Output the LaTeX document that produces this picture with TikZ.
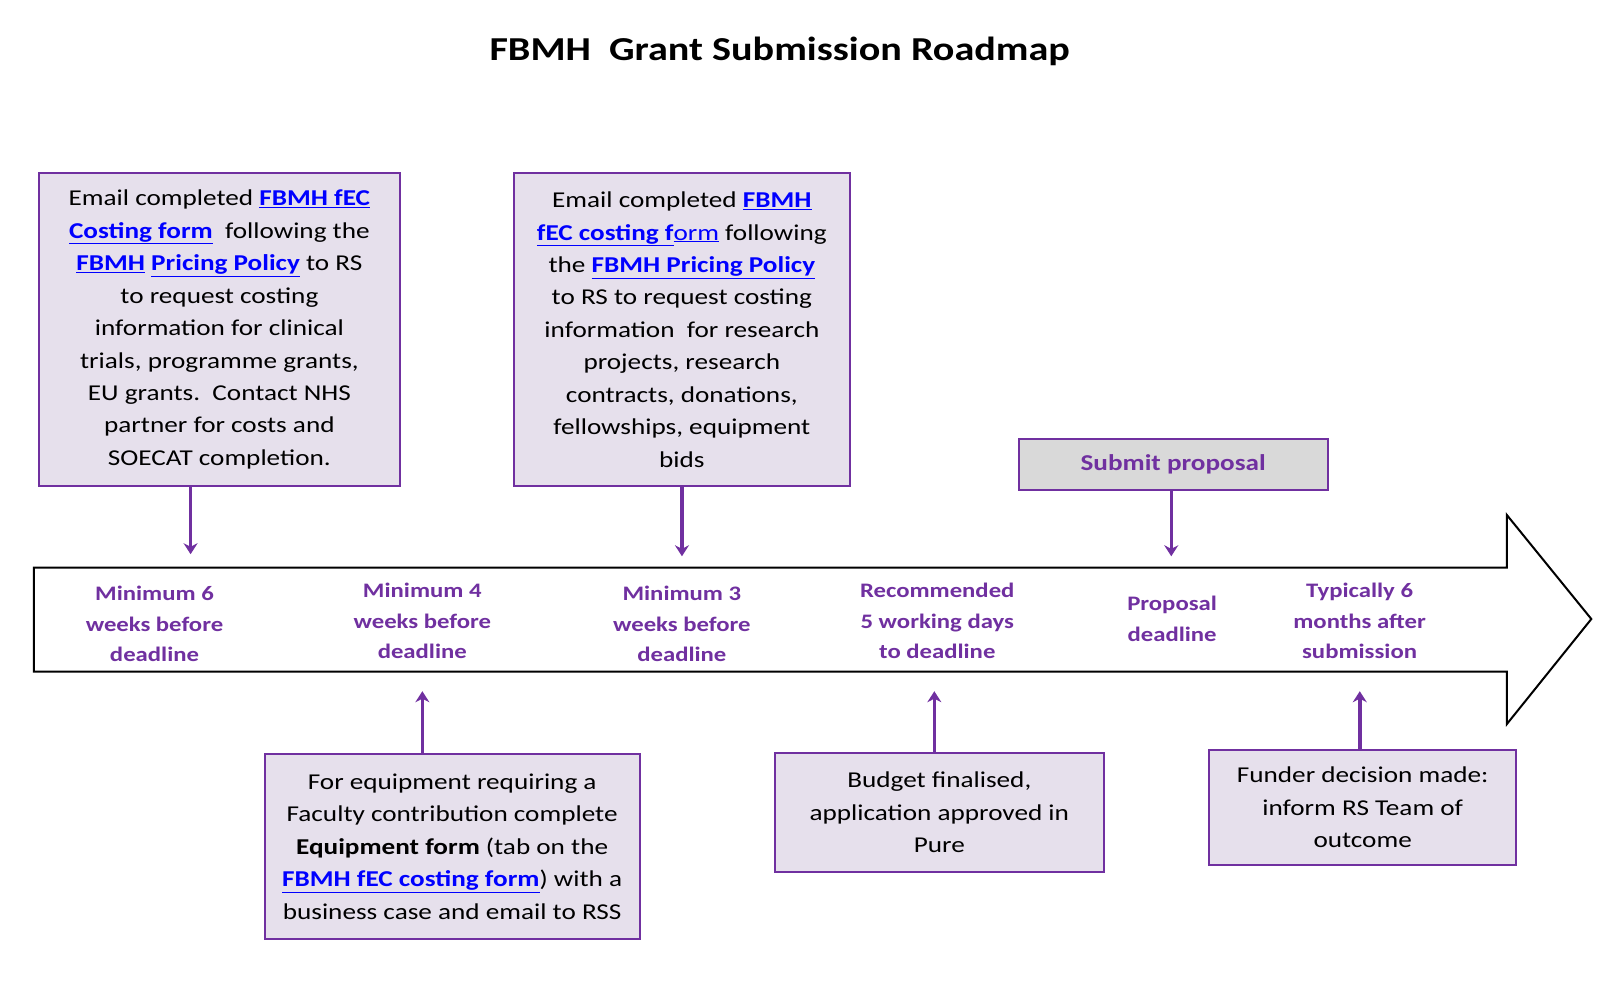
\documentclass[tikz,border=0pt]{standalone}
\usepackage{fontspec}
\setmainfont{Carlito}[FakeStretch=1.2]
\usetikzlibrary{arrows.meta}
\definecolor{pur}{HTML}{7030A0}
\definecolor{lav}{HTML}{E6E0EC}
\definecolor{lnkc}{HTML}{0000FF}
\newcommand{\lk}[1]{\textcolor{lnkc}{\textbf{\underline{#1}}}}
\begin{document}
\begin{tikzpicture}[x=1pt,y=-1pt,scale=1.03,transform shape,
 box/.style={draw=pur,line width=2pt,fill=lav,align=center,font=\fontsize{22}{31.5}\selectfont,inner sep=0pt},
 lbl/.style={text=pur,align=center,font=\fontsize{20}{29.5}\selectfont\bfseries},
 arr/.style={draw=pur,line width=3.5pt,-{Stealth[length=11pt,width=14pt]}}]
\useasboundingbox (0,0) rectangle (1568,971);
\node[font=\fontsize{32.5}{40}\selectfont\bfseries] (title) at (757,50) {FBMH\ \ Grant Submission Roadmap};
% timeline arrow
\draw[line width=2pt,fill=white] (33,551) -- (1463,551) -- (1463,500) -- (1545,601) -- (1463,703) -- (1463,652) -- (33,652) -- cycle;
% top boxes
\node[box,minimum width=350pt,minimum height=304pt] (b1) at (213,320) {Email completed \lk{FBMH fEC}\\ \lk{Costing form}\ \ following the\\ \lk{FBMH} \lk{Pricing Policy} to RS\\ to request costing\\ information for clinical\\ trials, programme grants,\\ EU grants.\ \ Contact NHS\\ partner for costs and\\ SOECAT completion.};
\node[box,minimum width=326pt,minimum height=304pt] (b2) at (662,320) {Email completed \lk{FBMH}\\ \lk{fEC costing f}\textcolor{lnkc}{\underline{orm}} following\\ the \lk{FBMH Pricing Policy}\\ to RS to request costing\\ information\ \ for research\\ projects, research\\ contracts, donations,\\ fellowships, equipment\\ bids};
\node[box,fill={rgb,255:red,217;green,217;blue,217},minimum width=300pt,minimum height=50pt,text=pur,font=\fontsize{22}{26}\selectfont\bfseries] (b3) at (1139,451) {Submit proposal};
% bottom boxes
\node[box,minimum width=364pt,minimum height=179pt] (b4) at (439,822) {For equipment requiring a\\ Faculty contribution complete\\ \textbf{Equipment form} (tab on the\\ \lk{FBMH fEC costing form}) with a\\ business case and email to RSS};
\node[box,minimum width=320pt,minimum height=116pt] (b5) at (912,789) {Budget finalised,\\ application approved in\\ Pure};
\node[box,minimum width=298pt,minimum height=112pt] (b6) at (1323,784) {Funder decision made:\\ inform RS Team of\\ outcome};
% labels
\node[lbl] (l1) at (150,606) {Minimum 6\\ weeks before\\ deadline};
\node[lbl] (l2) at (410,603) {Minimum 4\\ weeks before\\ deadline};
\node[lbl] (l3) at (662,606) {Minimum 3\\ weeks before\\ deadline};
\node[lbl] (l4) at (910,603) {Recommended\\ 5 working days\\ to deadline};
\node[lbl] (l5) at (1138,601) {Proposal\\ deadline};
\node[lbl] (l6) at (1320,603) {Typically 6\\ months after\\ submission};
% connectors
\coordinate (t1) at (185,538); \coordinate (t2) at (662,540); \coordinate (t3) at (1137,540);
\coordinate (u1) at (410,671); \coordinate (u2) at (907,671); \coordinate (u3) at (1320,671);
\draw[arr] (b1.south -| t1) -- (t1);
\draw[arr] (b2.south) -- (t2);
\draw[arr] (b3.south -| t3) -- (t3);
\draw[arr] (b4.north -| u1) -- (u1);
\draw[arr] (b5.north -| u2) -- (u2);
\draw[arr] (b6.north -| u3) -- (u3);
\end{tikzpicture}
\end{document}
